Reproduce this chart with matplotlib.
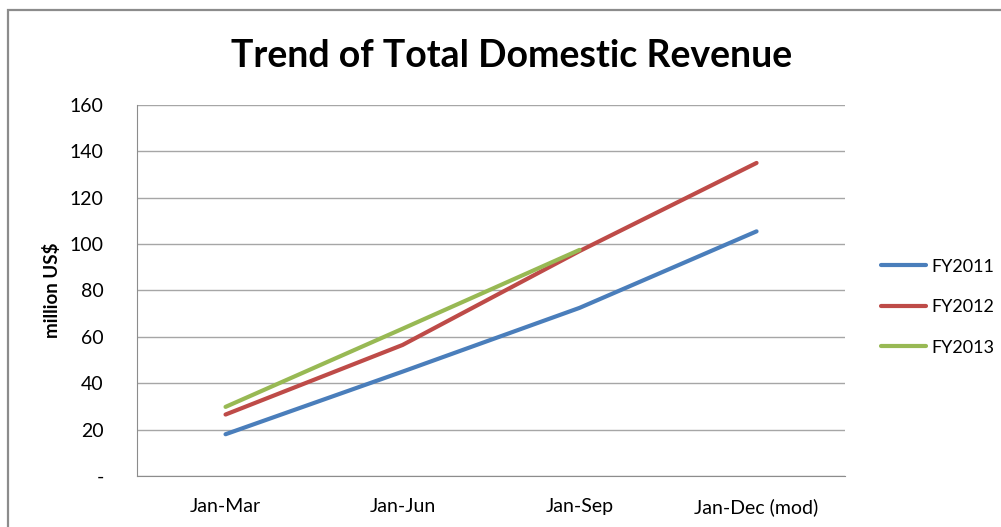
import matplotlib.pyplot as plt
from matplotlib.patches import Rectangle

periods = ["Jan-Mar", "Jan-Jun", "Jan-Sep", "Jan-Dec (mod)"]
fy2011 = [18, 45, 72.5, 105.5]
fy2012 = [26.5, 56.5, 97, 135]
fy2013 = [29.8, 63.5, 97.5]

y_ticks = [0, 20, 40, 60, 80, 100, 120, 140, 160]
y_tick_labels = ["-", "20", "40", "60", "80", "100", "120", "140", "160"]

plt.rcParams["font.family"] = ["Lato", "DejaVu Sans"]

fig = plt.figure(figsize=(10.01, 5.27), dpi=100)
ax = fig.add_axes([0.1369, 0.0968, 0.7073, 0.7040])

# outer chart frame
fig.patches.append(
    Rectangle((0.008, -0.05), 1.05, 1.031, transform=fig.transFigure,
              fill=False, edgecolor="#8c8c8c", linewidth=1.6)
)

x = range(len(periods))
ax.plot(x, fy2011, color="#4A7EBB", linewidth=3, label="FY2011", solid_capstyle="round")
ax.plot(x, fy2012, color="#BE4B48", linewidth=3, label="FY2012", solid_capstyle="round")
ax.plot(range(len(fy2013)), fy2013, color="#98B954", linewidth=3, label="FY2013",
        solid_capstyle="round")

ax.set_xlim(-0.5, 3.5)
ax.set_ylim(0, 160)
ax.set_xticks(list(x))
ax.set_xticklabels(periods, fontsize=14)
ax.set_yticks(y_ticks)
ax.set_yticklabels(y_tick_labels, fontsize=14)
ax.tick_params(length=0)
ax.tick_params(axis="y", pad=24)
ax.tick_params(axis="x", pad=16)

ax.grid(axis="y", color="#a6a6a6", linewidth=1)
ax.set_axisbelow(True)
for side in ["top", "right"]:
    ax.spines[side].set_visible(False)
for side in ["left", "bottom"]:
    ax.spines[side].set_color("#8c8c8c")

ax.set_ylabel("million US$", fontsize=13.5, fontweight="bold", labelpad=6)

fig.text(0.511, 0.893, "Trend of Total Domestic Revenue", ha="center", va="center",
         fontsize=27, fontweight="bold")

ax.legend(loc="center left", bbox_to_anchor=(1.028, 0.455), frameon=False,
          fontsize=13, handlelength=2.5, labelspacing=1.35, handletextpad=0.3)

fig.savefig("out.png", dpi=100)
